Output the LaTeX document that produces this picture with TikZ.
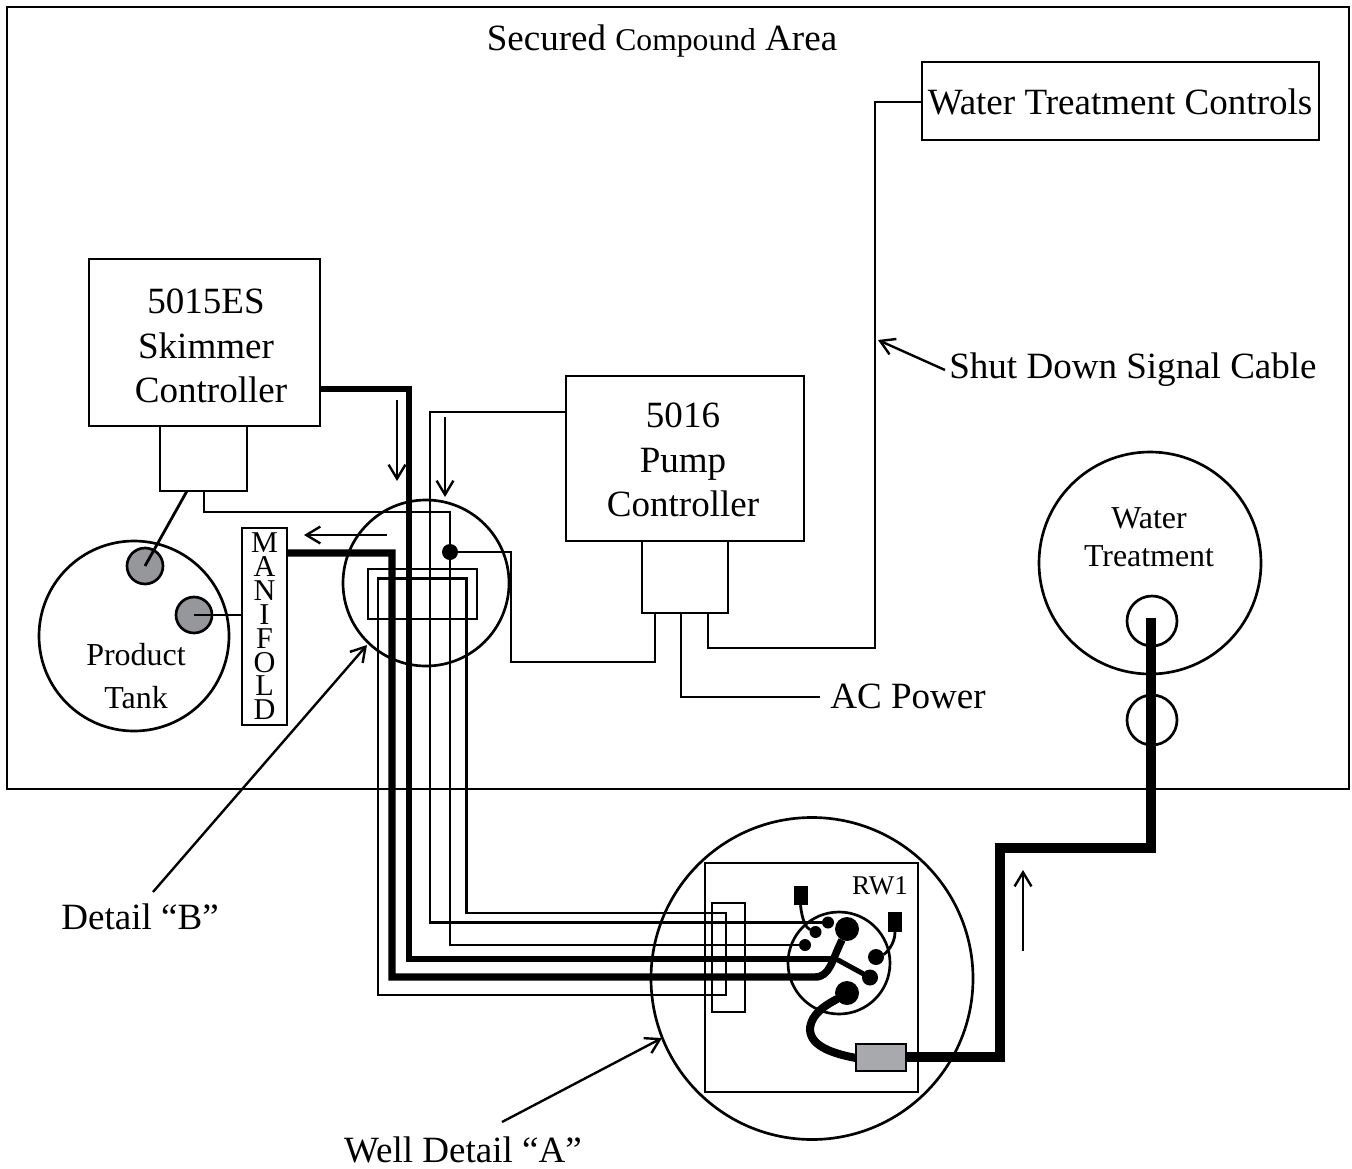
\documentclass[tikz,border=0pt]{standalone}
\usepackage{fontspec}
\setmainfont{Liberation Serif}
\usetikzlibrary{arrows.meta,calc}
\def\px{0.05cm}
\newcommand\fbig{\fontsize{52.7pt}{63.3pt}\selectfont}
\newcommand\fmid{\fontsize{45pt}{56pt}\selectfont}
\tikzset{
  x=0.05cm,y=-0.05cm,
  wire/.style={line width=4pt,line join=miter},
  midwire/.style={line width=7.2pt,line join=miter},
  heavywire/.style={line width=10.6pt,line join=miter},
  hugewire/.style={line width=13.5pt,line join=miter},
  boxnode/.style={draw,line width=4pt,inner sep=0pt,outer sep=0pt,align=center},
  roundnode/.style={draw,circle,line width=3.8pt,inner sep=0pt,outer sep=0pt},
  dotnode/.style={circle,fill=black,inner sep=0pt,outer sep=0pt},
  portnode/.style={draw,circle,fill=portgrey,line width=3.8pt,inner sep=0pt,outer sep=0pt},
  textlabel/.style={inner sep=0pt,outer sep=0pt,anchor=base},
  textblock/.style={inner sep=0pt,outer sep=0pt,align=center,font=\fbig},
  pointer/.style={line width=3.4pt,-{Straight Barb[length=20pt,width=24pt,line width=3.4pt]}},
}
\definecolor{portgrey}{RGB}{150,151,155}
\definecolor{plugrey}{RGB}{167,169,172}
\begin{document}
\begin{tikzpicture}
\useasboundingbox (0,0) rectangle (1352,1168);
% frame and boxes
\node[boxnode,minimum width=1342*\px,minimum height=782*\px] (compound) at (678,398) {};
\node[textlabel,font=\fbig] (secured) at (662,51) {Secured {\fmid Compound} Area};
\node[boxnode,font=\fbig,minimum width=397*\px,minimum height=78*\px] (controls) at (1120.5,101) {};
\node[textblock] (controlstext) at (1120,102) {Water Treatment Controls};
\node[boxnode,minimum width=231*\px,minimum height=167*\px] (skimmer) at (204.5,342.5) {};
\node[textblock] (skimmertext) at (206,346) {5015ES\\Skimmer\\\hspace*{0.5cm}Controller};
\node[boxnode,minimum width=87*\px,minimum height=65*\px] (skimbase) at (203.5,458.5) {};
\node[boxnode,minimum width=238*\px,minimum height=165*\px] (pump) at (685,458.5) {};
\node[textblock] (pumptext) at (683,460) {5016\\Pump\\Controller};
\node[boxnode,minimum width=86*\px,minimum height=72*\px] (pumpbase) at (685,577) {};
\node[boxnode,minimum width=45*\px,minimum height=197*\px,font=\fontsize{43pt}{33.9pt}\selectfont] (manifold) at (264.5,626.5) {M\\A\\N\\I\\F\\O\\L\\D};
\node[roundnode,minimum size=190*\px] (tank) at (134,636) {};
\node[textlabel,font=\fontsize{45.5pt}{62pt}\selectfont] (product) at (136,665) {Product};
\node[textlabel,font=\fontsize{45.5pt}{62pt}\selectfont] (tanklabel) at (136,708) {Tank};
\node[portnode,minimum size=36*\px] (portA) at (145,566) {};
\node[portnode,minimum size=36*\px] (portB) at (194,615) {};
\node[roundnode,minimum size=222*\px] (treat) at (1150,563) {};
\node[textlabel,font=\fontsize{45.4pt}{54pt}\selectfont] (water) at (1149,528) {Water};
\node[textlabel,font=\fontsize{45.4pt}{54pt}\selectfont] (treatment) at (1149,566) {Treatment};
\node[roundnode,minimum size=50*\px] (treatport) at (1152,621) {};
\node[roundnode,minimum size=50*\px] (sleeve) at (1152,720) {};
\node[roundnode,minimum size=166*\px] (detailB) at (426,583) {};
\node[boxnode,minimum width=109*\px,minimum height=50*\px] (strapB) at (422.5,594) {};
\node[roundnode,minimum size=322*\px] (wellcircle) at (812,978.5) {};
\node[boxnode,minimum width=213*\px,minimum height=229*\px] (well) at (811.5,977.5) {};
\node[boxnode,minimum width=33*\px,minimum height=109*\px] (strapA) at (728.5,957.5) {};
\node[roundnode,minimum size=102*\px] (wellhead) at (839,963) {};
\node[textlabel,font=\fontsize{38.5pt}{46pt}\selectfont] (rw) at (880,894) {RW1};
% well head terminals
\node[dotnode,minimum size=24*\px] (termTop) at (847,929) {};
\node[dotnode,minimum size=24*\px] (termBot) at (847,993) {};
\node[dotnode,minimum size=12*\px] (termA) at (828,922.5) {};
\node[dotnode,minimum size=12*\px] (termB) at (815.5,932) {};
\node[dotnode,minimum size=12*\px] (termC) at (805,945) {};
\node[dotnode,minimum size=16*\px] (termD) at (876,957) {};
\node[dotnode,minimum size=16*\px] (termE) at (870,977.5) {};
\node[fill=black,inner sep=0pt,minimum width=14*\px,minimum height=19*\px] (capA) at (800.5,895.5) {};
\node[fill=black,inner sep=0pt,minimum width=14*\px,minimum height=20*\px] (capB) at (895,922) {};
\node[dotnode,minimum size=16*\px] (junction) at (450,552) {};
% named bends
\coordinate (loopTL) at (378,578.5);
\coordinate (loopTR) at (466.5,578.5);
\coordinate (loopBL) at (378,995);
\coordinate (loopBR) at (726,995);
\coordinate (loopUR) at (726,913);
\coordinate (loopUL) at (466.5,913);
\coordinate (acEnd) at (820,697);
\coordinate (treatEnd) at (1151,618);
% thin wires
\draw[wire] (loopTR) -- (loopTL) -- (loopBL) -- (loopBR) -- (loopUR) -- (loopUL) -- cycle;
\draw[wire] (pump.west |- 0,412) -- (430,412) -- (430,922.5) -- (termA);
\draw[wire] (skimbase.south -| 204,0) -- (204,512) -- (450,512) -- (450,945) -- (termC);
\draw[wire] (junction) -- (511,552) -- (511,662) -- (655,662) -- (pumpbase.south -| 655,0);
\draw[wire] (pumpbase.south -| 681,0) -- (681,697) -- (acEnd);
\draw[wire] (pumpbase.south -| 708,0) -- (708,648) -- (875,648) -- (875,102) -- (controls.west |- 0,102);
\draw[wire] (skimbase.south -| 187,0) -- (portA.center);
\draw[wire] (manifold.west |- 0,615) -- (portB.center);
\draw[wire] (capA.south) .. controls (802,920) and (806,928) .. (termB);
\draw[wire] (capB.south) .. controls (895,945) and (885,954) .. (termD);
% thick wires
\draw[midwire] (skimmer.east |- 0,389) -- (409,389) -- (409,959) -- (836,959);
\draw[midwire,line cap=round] (838,960) -- (termE);
\draw[heavywire] (manifold.east |- 0,553) -- (392,553) -- (392,977) -- (815,977) .. controls (830,977) and (832,960) .. (841,942) -- (termTop);
\draw[heavywire,line width=11.5pt,line cap=round] (termBot) .. controls (832,1002) and (810,1012) .. (810,1030) .. controls (811,1047) and (835,1054) .. (856,1058);
\draw[hugewire] (906,1057) -- (1000,1057) -- (1000,848) -- (1151,848) -- (treatEnd);
\node[draw,fill=plugrey,line width=4pt,inner sep=0pt,outer sep=0pt,minimum width=50*\px,minimum height=27*\px] (plug) at (881,1057.5) {};
% pointers
\coordinate (flowA0) at (397,400); \coordinate (flowA1) at (397,481);
\coordinate (flowB0) at (445,417); \coordinate (flowB1) at (445,497);
\coordinate (flowC0) at (387,535); \coordinate (flowC1) at (304,535);
\coordinate (flowD0) at (1023,951); \coordinate (flowD1) at (1023,870);
\draw[pointer] (flowA0) -- (flowA1);
\draw[pointer] (flowB0) -- (flowB1);
\draw[pointer] (flowC0) -- (flowC1);
\draw[pointer] (flowD0) -- (flowD1);
\node[textlabel,font=\fbig] (shut) at (1133,378) {Shut Down Signal Cable};
\node[textlabel,font=\fbig] (ac) at (908,708) {AC Power};
\node[textlabel,font=\fbig] (detB) at (140,929) {Detail “B”};
\node[textlabel,font=\fbig] (detA) at (463,1162) {Well Detail “A”};
\coordinate (shutTail) at (945,370);
\coordinate (detBTail) at (153,892);
\coordinate (detATail) at (502,1122);
\draw[pointer] (shutTail) -- (878,340);
\draw[pointer] (detBTail) -- (367,645);
\draw[pointer] (detATail) -- (662,1038);
\end{tikzpicture}
\end{document}
